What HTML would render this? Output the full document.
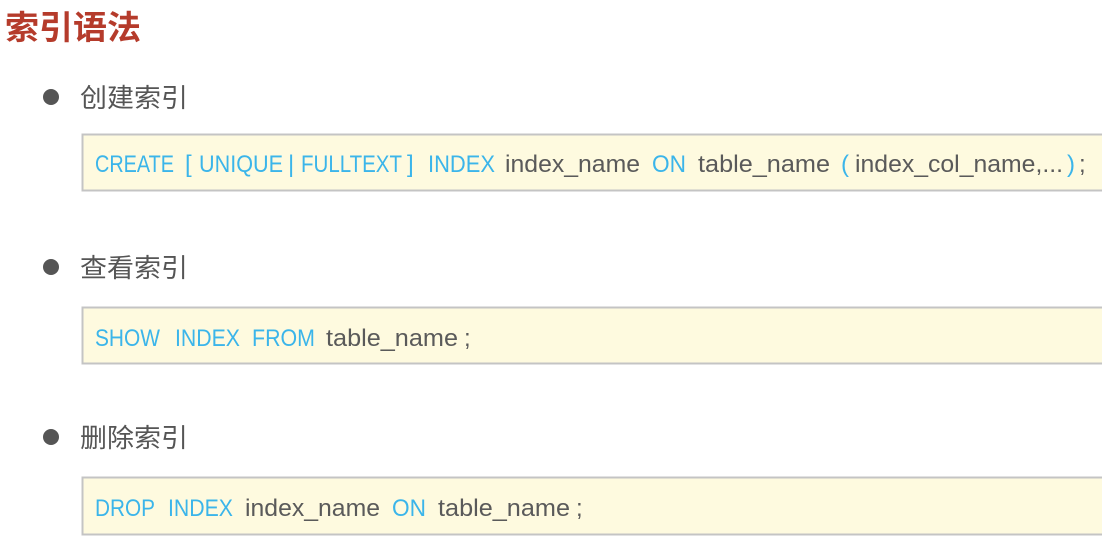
<!DOCTYPE html>
<html><head><meta charset="utf-8"><style>
html,body{margin:0;padding:0;background:#fff;}
svg{display:block;}
.b{fill:#3bb5ea;}
.g{fill:#5a5a5a;}
text{font-family:"Liberation Sans","Noto Sans CJK SC",sans-serif;font-size:24px;}
.cn{font-family:"Noto Sans CJK SC","WenQuanYi Zen Hei",sans-serif;font-size:26px;fill:#555;}
</style></head><body>
<svg width="1102" height="547" viewBox="0 0 1102 547" xmlns="http://www.w3.org/2000/svg">
<rect width="1102" height="547" fill="#fff"/>
<text x="5" y="39" style="font-family:'Noto Sans CJK SC',sans-serif;font-size:33px;font-weight:bold;fill:#b53b2b" textLength="136" lengthAdjust="spacingAndGlyphs">索引语法</text>

<circle cx="51" cy="97" r="8" fill="#555"/>
<text class="cn" x="80" y="107" textLength="108" lengthAdjust="spacingAndGlyphs">创建索引</text>
<circle cx="51" cy="267" r="8" fill="#555"/>
<text class="cn" x="80" y="277" textLength="108" lengthAdjust="spacingAndGlyphs">查看索引</text>
<circle cx="51" cy="437" r="8" fill="#555"/>
<text class="cn" x="80" y="447" textLength="108" lengthAdjust="spacingAndGlyphs">删除索引</text>

<rect x="82.5" y="134.5" width="1030" height="56" fill="#fefadf" stroke="#c4c4c4" stroke-width="2"/>
<rect x="82.5" y="307.5" width="1030" height="56" fill="#fefadf" stroke="#c4c4c4" stroke-width="2"/>
<rect x="82.5" y="477.5" width="1030" height="57" fill="#fefadf" stroke="#c4c4c4" stroke-width="2"/>

<g lengthAdjust="spacingAndGlyphs">
<text class="b" x="95" y="172" textLength="79" lengthAdjust="spacingAndGlyphs">CREATE</text>
<text class="b" x="185" y="172">[</text>
<text class="b" x="199" y="172" textLength="84" lengthAdjust="spacingAndGlyphs">UNIQUE</text>
<text class="b" x="288" y="172">|</text>
<text class="b" x="301" y="172" textLength="101" lengthAdjust="spacingAndGlyphs">FULLTEXT</text>
<text class="b" x="407" y="172">]</text>
<text class="b" x="428" y="172" textLength="67" lengthAdjust="spacingAndGlyphs">INDEX</text>
<text class="g" x="505" y="172" textLength="135" lengthAdjust="spacingAndGlyphs">index_name</text>
<text class="b" x="652" y="172" textLength="34" lengthAdjust="spacingAndGlyphs">ON</text>
<text class="g" x="698" y="172" textLength="132" lengthAdjust="spacingAndGlyphs">table_name</text>
<text class="b" x="841" y="172">(</text>
<text class="g" x="855" y="172" textLength="208" lengthAdjust="spacingAndGlyphs">index_col_name,...</text>
<text class="b" x="1067" y="172">)</text>
<text class="g" x="1079" y="172">;</text>

<text class="b" x="95" y="346" textLength="65" lengthAdjust="spacingAndGlyphs">SHOW</text>
<text class="b" x="175" y="346" textLength="65" lengthAdjust="spacingAndGlyphs">INDEX</text>
<text class="b" x="252" y="346" textLength="63" lengthAdjust="spacingAndGlyphs">FROM</text>
<text class="g" x="326" y="346" textLength="132" lengthAdjust="spacingAndGlyphs">table_name</text>
<text class="g" x="464" y="346">;</text>

<text class="b" x="95" y="516" textLength="60" lengthAdjust="spacingAndGlyphs">DROP</text>
<text class="b" x="168" y="516" textLength="65" lengthAdjust="spacingAndGlyphs">INDEX</text>
<text class="g" x="245" y="516" textLength="135" lengthAdjust="spacingAndGlyphs">index_name</text>
<text class="b" x="392" y="516" textLength="34" lengthAdjust="spacingAndGlyphs">ON</text>
<text class="g" x="438" y="516" textLength="132" lengthAdjust="spacingAndGlyphs">table_name</text>
<text class="g" x="576" y="516">;</text>
</g>
</svg>
</body></html>
